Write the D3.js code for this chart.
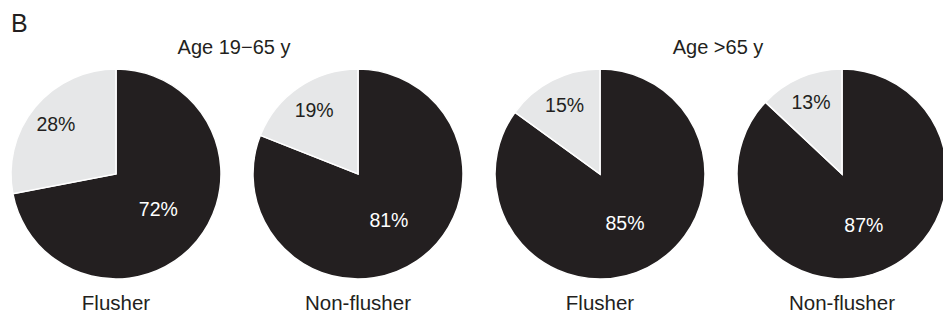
<!DOCTYPE html>
<html>
<head>
<meta charset="utf-8">
<script src="https://cdn.jsdelivr.net/npm/d3@7"></script>
<style>
  body { margin: 0; background: #fff; }
  text { font-family: "Liberation Sans", Arial, sans-serif; }
</style>
</head>
<body>
<div id="chart"></div>
<script>
// Pie panel B: flushers vs non-flushers by age group

var panelLabel = "B";
var groups = ["Age 19\u221265 y", "Age >65 y"];
var categories = ["Flusher", "Non-flusher", "Flusher", "Non-flusher"];
var darkPct = [72, 81, 85, 87];
var lightPct = [28, 19, 15, 13];

var width = 943, height = 316;
var radius = 105;
var cy = 174;
var darkColor = "#231f20", lightColor = "#e6e7e8";

var svg = d3.select("#chart")
  .append("svg")
  .attr("width", width)
  .attr("height", height);

// x positions of the pies
var x = d3.scalePoint()
  .domain(d3.range(categories.length))
  .range([116, 842]);

var pie = d3.pie().sort(null).value(function(d) { return d.v; });
var arc = d3.arc().innerRadius(0).outerRadius(radius);
var darkLabelArc = d3.arc().innerRadius(55).outerRadius(55);
var lightLabelArc = d3.arc().innerRadius(78).outerRadius(78);

svg.append("text")
  .attr("x", 11)
  .attr("y", 32)
  .attr("font-size", 25)
  .attr("fill", "#231f20")
  .text(panelLabel);

// group titles centred over each pair of pies
groups.forEach(function(g, i) {
  svg.append("text")
    .attr("x", (x(i * 2) + x(i * 2 + 1)) / 2 - 3)
    .attr("y", 54)
    .attr("text-anchor", "middle")
    .attr("font-size", 20)
    .attr("fill", "#231f20")
    .text(g);
});

categories.forEach(function(cat, i) {
  var data = [
    {k: "dark", v: darkPct[i]},
    {k: "light", v: lightPct[i]}
  ];
  var g = svg.append("g")
    .attr("transform", "translate(" + x(i) + "," + cy + ")");

  var slices = g.selectAll("g.slice")
    .data(pie(data))
    .enter().append("g")
    .attr("class", "slice");

  slices.append("path")
    .attr("d", arc)
    .attr("fill", function(d) { return d.data.k === "dark" ? darkColor : lightColor; })
    .attr("stroke", "#fff")
    .attr("stroke-width", 1.5);

  slices.append("text")
    .attr("transform", function(d) {
      var c = d.data.k === "dark" ? darkLabelArc.centroid(d) : lightLabelArc.centroid(d);
      return "translate(" + c[0] + "," + c[1] + ")";
    })
    .attr("dy", "0.36em")
    .attr("text-anchor", "middle")
    .attr("font-size", 19.5)
    .attr("fill", function(d) { return d.data.k === "dark" ? "#fff" : "#231f20"; })
    .text(function(d) { return d.data.v + "%"; });

  svg.append("text")
    .attr("x", x(i))
    .attr("y", 310)
    .attr("text-anchor", "middle")
    .attr("font-size", 20.5)
    .attr("fill", "#231f20")
    .text(cat);
});
</script>
</body>
</html>
